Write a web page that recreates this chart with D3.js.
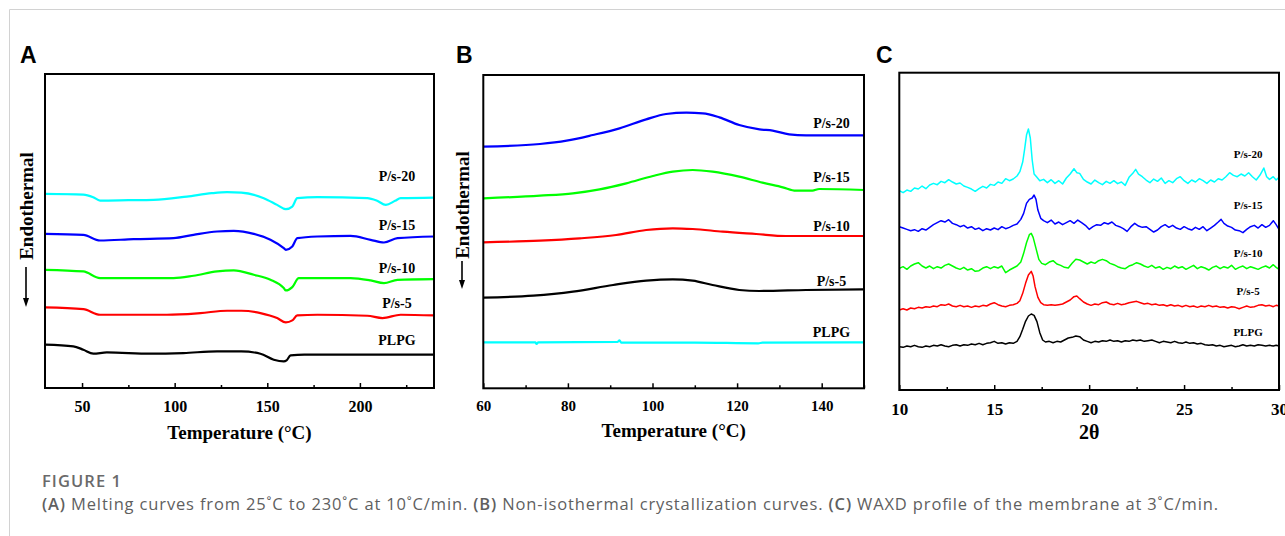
<!DOCTYPE html>
<html>
<head>
<meta charset="utf-8">
<script src="https://cdn.jsdelivr.net/npm/d3@7"></script>
<style>
  body { margin: 0; background: #fff; }
  svg { display: block; }
</style>
</head>
<body>
<svg id="fig" width="1285" height="536"></svg>
<script>
// series names, bottom to top
var names = ["PLPG", "P/s-5", "P/s-10", "P/s-15", "P/s-20"];

// (A) melting curves: [temperature (°C), heat flow (a.u.)]
var meltPLPG = [[30,130],[45.3,125],[50.7,115],[56.1,103],[63.4,107],[86.8,103],[104.8,105],[122.9,110],[136,110],[146.3,103],[153.5,85],[158.9,80],[160.4,83],[162.6,98],[170,100],[240,100]];
var meltPs5 = [[30,242],[50.7,237],[59.7,220],[95.8,220],[113.9,225],[128.3,232],[136,232],[146.3,225],[155.3,210],[160,197],[163.5,203],[166.2,218],[177,220],[204,217],[212.2,210],[222,220],[240,218]];
var meltPs10 = [[30,355],[50.7,350],[59.7,330],[77.8,330],[99.4,330],[110.2,337],[122.9,350],[131.9,353],[142.7,340],[151.7,325],[158.9,300],[160,293],[163.5,303],[167,330],[195,330],[205.8,323],[213,315],[220.3,325],[240,327]];
var meltPs15 = [[30,463],[50.7,460],[59.7,443],[77.8,447],[99.4,450],[110.2,460],[122.9,470],[131.9,472],[142.7,463],[151.7,445],[158.9,420],[160,415],[163.5,425],[166.2,450],[177,455],[195,457],[205.8,445],[213,437],[220.3,450],[240,455]];
var meltPs20 = [[30,583],[50.7,581],[56,573],[59.7,563],[75,564],[88.6,565],[106.6,575],[120,585],[128.3,588],[136,587],[148.1,570],[155.3,550],[160,537],[163.5,545],[166.2,570],[177,573],[204,570],[209,563],[214,550],[219,562],[222,570],[240,572]];

// (B) non-isothermal crystallization: [temperature (°C), heat flow (a.u.)]
var crystPLPG = [[60,138],[72.3,138],[72.6,133],[73,138],[91.7,139],[92.2,144],[92.6,137],[110,137],[125,135],[126,137],[150,138]];
var crystPs5 = [[60,272],[71.8,278],[81.2,290],[90.7,310],[98.5,323],[104.8,327],[109.5,323],[114.2,310],[120.5,295],[125.3,292],[136.3,295],[150,297]];
var crystPs10 = [[60,438],[73.4,443],[82.8,450],[91.4,460],[98.5,475],[104.8,480],[109.5,478],[116.6,470],[124.5,463],[131.5,457],[150,457]];
var crystPs15 = [[60,570],[73.4,578],[81.2,585],[87.5,597],[93.8,615],[100.1,637],[104.8,650],[109.5,655],[114.2,650],[120.5,635],[126,617],[130.8,603],[133.9,593],[137.8,593],[139.4,598],[150,595]];
var crystPs20 = [[60,725],[73.4,733],[79.7,743],[85.9,760],[92.2,780],[98.5,807],[103.2,823],[108,827],[111.9,825],[115.8,813],[120.5,790],[125.3,777],[128.4,773],[132.3,762],[136.3,759],[150,759]];

// (C) WAXD profiles: [2θ (°), intensity (a.u.)]
var waxdPLPG = [[10.0,130],[10.2,128],[10.4,132],[10.6,130],[10.8,134],[11.0,130],[11.2,128],[11.4,132],[11.6,130],[11.8,134],[12.0,132],[12.2,136],[12.4,132],[12.6,130],[12.8,134],[13.0,136],[13.2,132],[13.4,136],[13.6,134],[13.8,138],[14.0,136],[14.2,140],[14.4,136],[14.6,140],[14.8,142],[15.0,146],[15.2,140],[15.4,142],[15.6,138],[15.8,142],[16.0,140],[16.2,146],[16.35,160],[16.5,182],[16.65,206],[16.8,222],[16.95,228],[17.1,224],[17.25,205],[17.4,172],[17.55,150],[17.7,144],[17.9,146],[18.1,142],[18.3,146],[18.5,144],[18.7,150],[18.9,156],[19.1,158],[19.3,162],[19.5,160],[19.7,150],[19.9,146],[20.1,142],[20.3,146],[20.5,144],[20.7,148],[20.9,146],[21.1,150],[21.3,146],[21.5,148],[21.7,144],[21.9,148],[22.1,146],[22.3,150],[22.5,148],[22.7,150],[22.9,146],[23.1,148],[23.3,150],[23.5,146],[23.7,142],[23.9,146],[24.1,144],[24.3,142],[24.5,146],[24.7,142],[24.9,140],[25.1,144],[25.3,140],[25.5,142],[25.7,138],[25.9,140],[26.1,136],[26.3,134],[26.5,136],[26.7,132],[26.9,134],[27.1,130],[27.3,132],[27.5,134],[27.7,130],[27.9,132],[28.1,136],[28.3,132],[28.5,134],[28.7,132],[28.9,136],[29.1,134],[29.3,132],[29.5,134],[29.7,132],[29.85,134],[30.0,132]];
var waxdPs5 = [[10.0,240],[10.2,244],[10.4,240],[10.6,246],[10.8,244],[11.0,248],[11.2,246],[11.4,250],[11.6,248],[11.8,252],[12.0,250],[12.2,256],[12.4,254],[12.6,258],[12.8,252],[13.0,250],[13.2,254],[13.4,250],[13.6,252],[13.8,248],[14.0,252],[14.2,250],[14.4,254],[14.6,252],[14.8,258],[15.0,262],[15.2,256],[15.4,252],[15.6,250],[15.8,254],[16.0,256],[16.2,260],[16.35,268],[16.5,290],[16.65,320],[16.8,345],[16.95,356],[17.05,342],[17.15,310],[17.3,278],[17.45,262],[17.6,256],[17.8,254],[18.0,256],[18.2,254],[18.4,256],[18.6,258],[18.8,264],[19.0,270],[19.2,280],[19.35,282],[19.5,274],[19.7,264],[19.9,258],[20.1,254],[20.3,258],[20.5,256],[20.7,262],[20.9,264],[21.1,258],[21.3,256],[21.5,260],[21.7,256],[21.9,258],[22.1,262],[22.3,264],[22.5,266],[22.7,262],[22.9,258],[23.1,260],[23.3,256],[23.5,258],[23.7,254],[23.9,256],[24.1,252],[24.3,256],[24.5,252],[24.7,254],[24.9,250],[25.1,254],[25.3,250],[25.5,252],[25.7,248],[25.9,252],[26.1,250],[26.3,254],[26.5,250],[26.7,252],[26.9,248],[27.1,250],[27.3,246],[27.5,250],[27.7,248],[27.9,244],[28.1,248],[28.3,252],[28.5,248],[28.7,250],[28.9,254],[29.1,256],[29.3,252],[29.5,254],[29.7,250],[29.85,254],[30.0,252]];
var waxdPs10 = [[10.0,365],[10.2,370],[10.4,362],[10.6,372],[10.8,378],[11.0,382],[11.2,372],[11.4,366],[11.6,372],[11.8,364],[12.0,370],[12.2,366],[12.4,374],[12.6,378],[12.8,372],[13.0,366],[13.2,362],[13.4,368],[13.6,360],[13.8,364],[14.0,356],[14.2,358],[14.4,366],[14.6,370],[14.8,364],[15.0,370],[15.2,366],[15.4,372],[15.6,352],[15.8,360],[16.0,366],[16.2,372],[16.4,384],[16.55,410],[16.7,442],[16.85,466],[16.95,470],[17.05,458],[17.2,425],[17.35,392],[17.5,380],[17.7,376],[17.9,384],[18.1,388],[18.3,378],[18.5,374],[18.7,368],[18.9,366],[19.1,380],[19.3,392],[19.5,390],[19.7,384],[19.9,378],[20.1,384],[20.3,380],[20.5,388],[20.7,392],[20.9,388],[21.1,380],[21.3,376],[21.5,370],[21.7,366],[21.9,364],[22.1,372],[22.3,376],[22.5,382],[22.7,378],[22.9,372],[23.1,368],[23.3,374],[23.5,366],[23.7,370],[23.9,362],[24.1,368],[24.3,364],[24.5,372],[24.7,366],[24.9,370],[25.1,362],[25.3,368],[25.5,374],[25.7,364],[25.9,370],[26.1,366],[26.3,360],[26.5,368],[26.7,372],[26.9,364],[27.1,370],[27.3,366],[27.5,374],[27.7,362],[27.9,368],[28.1,372],[28.3,364],[28.5,370],[28.7,366],[28.9,362],[29.1,368],[29.3,372],[29.5,366],[29.7,376],[29.85,368],[30.0,362]];
var waxdPs15 = [[10.0,490],[10.2,486],[10.4,482],[10.6,478],[10.8,481],[11.0,476],[11.2,484],[11.4,480],[11.6,488],[11.8,496],[12.0,502],[12.2,508],[12.4,504],[12.6,511],[12.8,500],[13.0,496],[13.2,490],[13.4,494],[13.6,486],[13.8,490],[14.0,482],[14.2,486],[14.4,478],[14.6,484],[14.8,480],[15.0,486],[15.2,481],[15.4,490],[15.6,484],[15.8,488],[16.0,494],[16.2,498],[16.4,512],[16.55,530],[16.7,560],[16.85,572],[17.0,576],[17.1,585],[17.2,572],[17.3,540],[17.45,515],[17.6,508],[17.8,502],[18.0,510],[18.2,498],[18.4,504],[18.6,496],[18.8,502],[19.0,508],[19.2,500],[19.4,510],[19.6,502],[19.8,494],[20.0,482],[20.2,490],[20.4,496],[20.6,494],[20.8,502],[21.0,498],[21.2,504],[21.4,494],[21.6,490],[21.8,484],[22.0,476],[22.2,490],[22.4,500],[22.6,492],[22.8,488],[23.0,490],[23.2,482],[23.4,474],[23.6,480],[23.8,490],[24.0,496],[24.2,488],[24.4,494],[24.6,486],[24.8,482],[25.0,490],[25.2,484],[25.4,480],[25.6,488],[25.8,482],[26.0,490],[26.2,478],[26.4,486],[26.6,494],[26.8,504],[26.95,512],[27.1,500],[27.3,492],[27.5,488],[27.7,480],[27.9,478],[28.1,472],[28.3,482],[28.5,490],[28.7,494],[28.9,486],[29.1,496],[29.3,488],[29.5,494],[29.7,508],[29.85,496],[30.0,482]];
var waxdPs20 = [[10.0,598],[10.2,592],[10.4,600],[10.6,596],[10.8,606],[11.0,603],[11.2,612],[11.4,604],[11.6,615],[11.8,620],[12.0,616],[12.2,626],[12.4,622],[12.6,631],[12.8,624],[13.0,618],[13.2,621],[13.4,612],[13.6,608],[13.8,603],[14.0,596],[14.2,604],[14.4,611],[14.6,606],[14.8,617],[15.0,614],[15.2,624],[15.4,620],[15.6,634],[15.8,628],[16.0,633],[16.2,642],[16.35,655],[16.5,684],[16.6,722],[16.7,765],[16.8,783],[16.9,756],[17.0,690],[17.1,648],[17.25,638],[17.4,628],[17.6,632],[17.8,622],[18.0,631],[18.2,620],[18.4,628],[18.6,618],[18.8,636],[19.0,648],[19.2,664],[19.35,652],[19.5,650],[19.7,632],[19.9,624],[20.1,618],[20.3,630],[20.5,622],[20.7,616],[20.9,626],[21.1,620],[21.3,628],[21.5,619],[21.7,624],[21.9,614],[22.1,638],[22.3,650],[22.45,662],[22.6,648],[22.8,640],[23.0,630],[23.2,622],[23.4,633],[23.6,626],[23.8,636],[24.0,620],[24.2,628],[24.4,622],[24.6,634],[24.8,640],[25.0,628],[25.2,620],[25.4,630],[25.6,624],[25.8,634],[26.0,628],[26.2,620],[26.4,630],[26.6,624],[26.8,634],[27.0,630],[27.2,640],[27.4,652],[27.6,644],[27.8,640],[28.0,648],[28.2,642],[28.4,652],[28.6,640],[28.8,630],[29.0,645],[29.2,666],[29.35,640],[29.5,632],[29.7,640],[29.85,630],[30.0,638]];

// axis ticks
var meltTicks = [50, 100, 150, 200], meltMinor = [75, 125, 175, 225];
var crystTicks = [60, 80, 100, 120, 140], crystMinor = [70, 90, 110, 130, 150];
var waxdTicks = [10, 15, 20, 25, 30], waxdMinor = [12.5, 17.5, 22.5, 27.5];

var serif = "'Liberation Serif', 'Times New Roman', serif";
var svg = d3.select("#fig");

// light page frame
svg.append("line").attr("x1", 9.5).attr("x2", 1285).attr("y1", 9.5).attr("y2", 9.5).attr("stroke", "#d2d2d2");
svg.append("line").attr("x1", 9.5).attr("x2", 9.5).attr("y1", 9.5).attr("y2", 536).attr("stroke", "#d2d2d2");

function drawPanel(o) {
  var g = svg.append("g");
  var x = d3.scaleLinear().domain(o.xDomain).range([o.left, o.right]);
  var y = d3.scaleLinear().domain(o.yDomain).range([o.bottom, o.top]);
  var line = d3.line()
    .x(function(d) { return x(d[0]); })
    .y(function(d) { return y(d[1]); })
    .curve(o.curve);

  o.series.forEach(function(s, i) {
    g.append("path")
      .datum(s)
      .attr("d", line)
      .attr("fill", "none")
      .attr("stroke", o.colors[i])
      .attr("stroke-width", o.lineWidth)
      .attr("stroke-linejoin", "round");
    g.append("text")
      .attr("x", x(o.labelX))
      .attr("y", y(o.labelY[i]))
      .attr("dy", "0.35em")
      .attr("text-anchor", "middle")
      .style("font-family", serif)
      .style("font-weight", "bold")
      .style("font-size", o.labelSize + "px")
      .text(names[i]);
  });

  // major and minor ticks, pointing inside
  var major = g.append("g")
    .attr("transform", "translate(0," + o.bottom + ")")
    .call(d3.axisBottom(x).tickValues(o.ticks).tickSizeInner(-5).tickSizeOuter(0).tickPadding(o.tickPad));
  major.select(".domain").remove();
  major.selectAll("line").attr("stroke", "#000").attr("stroke-width", 1.5);
  major.selectAll("text")
    .style("font-family", serif)
    .style("font-weight", "bold")
    .style("font-size", o.tickSize + "px")
    .attr("fill", "#000");

  var minor = g.append("g")
    .attr("transform", "translate(0," + o.bottom + ")")
    .call(d3.axisBottom(x).tickValues(o.minor).tickSizeInner(-3).tickSizeOuter(0).tickFormat(""));
  minor.select(".domain").remove();
  minor.selectAll("line").attr("stroke", "#000").attr("stroke-width", 1.5);

  g.append("rect")
    .attr("x", o.left).attr("y", o.top)
    .attr("width", o.right - o.left).attr("height", o.bottom - o.top)
    .attr("fill", "none").attr("stroke", "#000").attr("stroke-width", 2);

  g.append("text")
    .attr("x", (o.left + o.right) / 2)
    .attr("y", o.titleY)
    .attr("text-anchor", "middle")
    .style("font-family", serif)
    .style("font-weight", "bold")
    .style("font-size", o.titleSize + "px")
    .text(o.xTitle);

  // "Endothermal" with a down arrow
  if (o.yLabel) {
    g.append("text")
      .attr("transform", "translate(" + o.yLabel.x + "," + o.yLabel.y + ") rotate(-90)")
      .attr("dy", "0.35em")
      .attr("text-anchor", "middle")
      .style("font-family", serif)
      .style("font-weight", "bold")
      .style("font-size", "19px")
      .text("Endothermal");
    g.append("line")
      .attr("x1", o.yLabel.x).attr("x2", o.yLabel.x)
      .attr("y1", o.yLabel.a1).attr("y2", o.yLabel.a2 - 6)
      .attr("stroke", "#000").attr("stroke-width", 1.6);
    g.append("path")
      .attr("d", "M" + (o.yLabel.x - 3) + "," + (o.yLabel.a2 - 9) + "L" + (o.yLabel.x + 3) + "," + (o.yLabel.a2 - 9) + "L" + o.yLabel.x + "," + o.yLabel.a2 + "Z")
      .attr("fill", "#000");
  }

  g.append("text")
    .attr("x", o.letterX).attr("y", 63)
    .style("font-family", "'Liberation Sans', Arial, sans-serif")
    .style("font-weight", "bold")
    .style("font-size", "23px")
    .text(o.letter);
}

var colorsA = ["#000000", "#ff0000", "#00ff00", "#0000ff", "#00ffff"];
var colorsB = ["#00ffff", "#000000", "#ff0000", "#00ff00", "#0000ff"];

drawPanel({
  letter: "A", letterX: 20,
  left: 45, right: 434, top: 74, bottom: 388,
  xDomain: [30, 240], yDomain: [0, 943],
  ticks: meltTicks, minor: meltMinor, tickSize: 16, tickPad: 13,
  series: [meltPLPG, meltPs5, meltPs10, meltPs15, meltPs20],
  colors: colorsA, lineWidth: 2.2, curve: d3.curveMonotoneX,
  labelX: 220, labelY: [143, 255, 360, 490, 635], labelSize: 14,
  xTitle: "Temperature (\u00b0C)", titleY: 439, titleSize: 19,
  yLabel: { x: 26, y: 206, a1: 267, a2: 307 }
});

drawPanel({
  letter: "B", letterX: 456,
  left: 483.3, right: 864, top: 75, bottom: 388.3,
  xDomain: [60, 150], yDomain: [0, 940],
  ticks: crystTicks, minor: crystMinor, tickSize: 15, tickPad: 12.5,
  series: [crystPLPG, crystPs5, crystPs10, crystPs15, crystPs20],
  colors: colorsB, lineWidth: 2.2, curve: d3.curveMonotoneX,
  labelX: 142.3, labelY: [170, 323, 488, 635, 795], labelSize: 14,
  xTitle: "Temperature (\u00b0C)", titleY: 437, titleSize: 19,
  yLabel: { x: 462, y: 205, a1: 261, a2: 289 }
});

drawPanel({
  letter: "C", letterX: 876,
  left: 899.3, right: 1279, top: 72.7, bottom: 390,
  xDomain: [10, 30], yDomain: [0, 952],
  ticks: waxdTicks, minor: waxdMinor, tickSize: 17, tickPad: 13,
  series: [waxdPLPG, waxdPs5, waxdPs10, waxdPs15, waxdPs20],
  colors: colorsA, lineWidth: 1.5, curve: d3.curveLinear,
  labelX: 28.37, labelY: [175, 297, 412, 555, 708], labelSize: 11,
  xTitle: "2\u03b8", titleY: 439, titleSize: 20,
  yLabel: null
});

// caption
var cap = svg.append("g").style("font-family", "'Open Sans', sans-serif").attr("fill", "#5f5f5f");
cap.append("text").attr("x", 42).attr("y", 487)
  .attr("textLength", 79).attr("lengthAdjust", "spacing")
  .style("font-size", "16.5px").style("font-weight", 600).attr("fill", "#6a6a6a")
  .text("FIGURE 1");
var line2 = cap.append("text").attr("x", 42).attr("y", 510)
  .attr("textLength", 1176).attr("lengthAdjust", "spacing")
  .style("font-size", "16.5px");
[["(A)", true], [" Melting curves from 25\u02daC to 230\u02daC at 10\u02daC/min. ", false],
 ["(B)", true], [" Non-isothermal crystallization curves. ", false],
 ["(C)", true], [" WAXD profile of the membrane at 3\u02daC/min.", false]]
  .forEach(function(p) {
    line2.append("tspan").style("font-weight", p[1] ? 600 : 400).text(p[0]);
  });
</script>
</body>
</html>
